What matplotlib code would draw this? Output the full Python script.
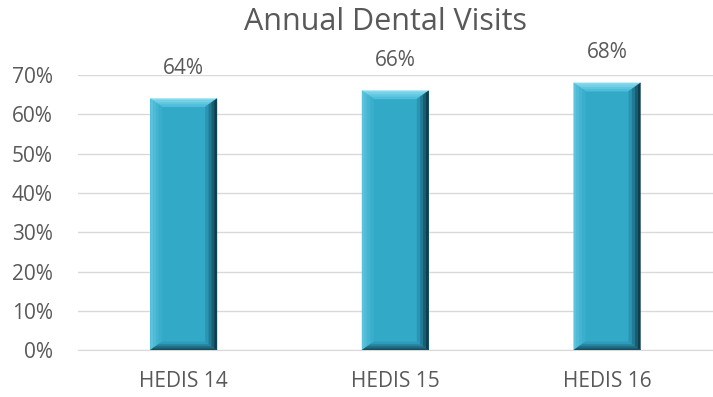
import matplotlib.pyplot as plt
from matplotlib.patches import Polygon
from matplotlib.ticker import PercentFormatter

plt.rcParams['font.family'] = ['Open Sans', 'DejaVu Sans']

categories = ["HEDIS 14", "HEDIS 15", "HEDIS 16"]
rates = [0.64, 0.66, 0.68]
labels = ["64%", "66%", "68%"]

fig = plt.figure(figsize=(7.13, 3.97), dpi=100)
ax = fig.add_axes([0.109, 0.118, 0.891, 0.693])

x = range(len(categories))
width = 0.315
bars = ax.bar(x, rates, width=width, color="#33a9c8", zorder=2)


def band(p_out0, p_out1, p_in1, p_in0, t0, t1):
    # slice of a bevel between fractions t0..t1 of its depth
    def lerp(a, b, t):
        return (a[0] + (b[0] - a[0]) * t, a[1] + (b[1] - a[1]) * t)
    return [lerp(p_out0, p_in0, t0), lerp(p_out1, p_in1, t0),
            lerp(p_out1, p_in1, t1), lerp(p_out0, p_in0, t1)]


# bevelled edges on each bar, shaded in a few steps
bx, by = 0.055, 0.021
shades = {
    "top": ["#86d9ec", "#74d1e7", "#62c8e1", "#4fbedb"],
    "left": ["#5cc3dc", "#4ebbd7", "#43b4d2", "#3aafcd"],
    "right": ["#0f3f4e", "#185d72", "#217a94", "#2b94b3"],
    "bottom": ["#17505f", "#1f6b82", "#2684a1", "#2d9bb9"],
}
for b in bars:
    x0, x1 = b.get_x(), b.get_x() + b.get_width()
    y0, y1 = 0, b.get_height()
    o = {"tl": (x0, y1), "tr": (x1, y1), "bl": (x0, y0), "br": (x1, y0)}
    i = {"tl": (x0 + bx, y1 - by), "tr": (x1 - bx, y1 - by),
         "bl": (x0 + bx, y0 + by), "br": (x1 - bx, y0 + by)}
    sides = {
        "top": ("tl", "tr"),
        "left": ("bl", "tl"),
        "right": ("br", "tr"),
        "bottom": ("bl", "br"),
    }
    for side, (a, c) in sides.items():
        cols = shades[side]
        n = len(cols)
        for k, col in enumerate(cols):
            pts = band(o[a], o[c], i[c], i[a], k / n, (k + 1) / n)
            ax.add_patch(Polygon(pts, closed=True, facecolor=col,
                                 edgecolor=col, linewidth=0.3, zorder=3))

for xi, v, t in zip(x, rates, labels):
    ax.annotate(t, (xi, v), xytext=(0, 22), textcoords="offset points",
                ha="center", va="center", fontsize=15, color="#595959")

ax.set_xlim(-0.5, 2.5)
ax.set_ylim(0, 0.7)
ax.set_yticks([i / 10 for i in range(8)])
ax.yaxis.set_major_formatter(PercentFormatter(1.0, decimals=0))
ax.set_xticks(list(x))
ax.set_xticklabels(categories)
ax.grid(axis="y", color="#d9d9d9", linewidth=1, zorder=0)
ax.tick_params(length=0, labelsize=15, labelcolor="#595959")
ax.tick_params(axis="x", pad=15)
ax.tick_params(axis="y", pad=18)
for s in ["top", "right", "left"]:
    ax.spines[s].set_visible(False)
ax.spines["bottom"].set_color("#d9d9d9")

fig.text(0.54, 0.945, "Annual Dental Visits", ha="center", va="center",
         fontsize=22, color="#595959")

fig.savefig("out.png", dpi=100)
